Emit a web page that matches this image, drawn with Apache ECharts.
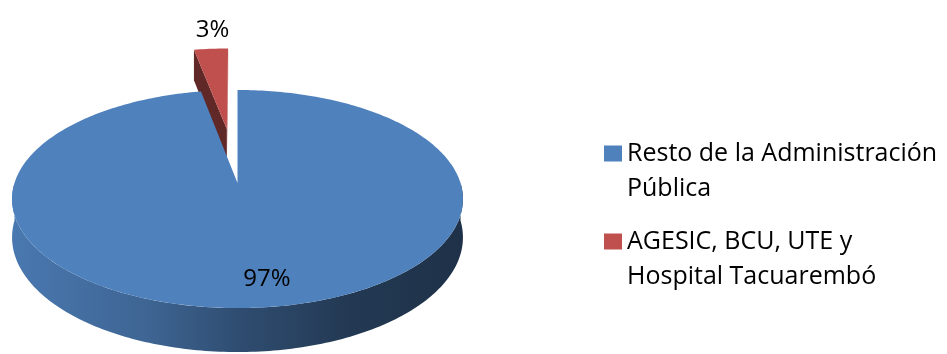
<!DOCTYPE html>
<html>
<head>
<meta charset="utf-8">
<script src="https://cdn.jsdelivr.net/npm/echarts@6/dist/echarts.min.js"></script>
<style>
  html, body { margin: 0; padding: 0; background: #ffffff; }
  #chart { width: 947px; height: 354px; }
</style>
</head>
<body>
<div id="chart"></div>
<script>
// Share of institutions (percent)
const categories = ['Resto de la Administración Pública', 'AGESIC, BCU, UTE y Hospital Tacuarembó'];
const legendLabels = ['Resto de la Administración\nPública', 'AGESIC, BCU, UTE y\nHospital Tacuarembó'];
const shares = [97, 3];

// slice styling
const sliceColors = ['#4f81bd', '#c0504d'];
const explode = [0, 0.55];              // fraction of radius
const labelRadius = [0.8, 1.0];         // where each percent label sits
const labelShift = [[10.5, 0], [1.5, -19]];

// tilted pie geometry: unit circle -> screen with a mild perspective
const G = { cx: 237.5, cy: 183, rx: 223, ry: 106.7, persp: 0.147, depth: 37.5 };

function project(u, v, z) {
  const s = 1 / (1 + G.persp * v);
  return [G.cx + G.rx * u * s, G.cy + (-G.ry * v + G.depth * z) * s];
}

const total = shares.reduce((a, b) => a + b, 0);
const startShare = [];
shares.reduce((acc, v) => { startShare.push(acc); return acc + v; }, 0);

// slices run clockwise from 12 o'clock; returns [a0, a1] (radians, ccw, a0 < a1)
function sliceAngles(i) {
  const startDeg = 90 - startShare[i] / total * 360;
  const endDeg = 90 - (startShare[i] + shares[i]) / total * 360;
  return [endDeg * Math.PI / 180, startDeg * Math.PI / 180];
}

function arcPoints(lo, hi, ou, ov, z) {
  const n = Math.max(2, Math.ceil((hi - lo) / (Math.PI / 180)));
  const pts = [];
  for (let k = 0; k <= n; k++) {
    const t = lo + (hi - lo) * k / n;
    pts.push(project(ou + Math.cos(t), ov + Math.sin(t), z));
  }
  return pts;
}

function shade(hex, f) {
  const n = parseInt(hex.slice(1), 16);
  const r = Math.round(((n >> 16) & 255) * f);
  const g = Math.round(((n >> 8) & 255) * f);
  const b = Math.round((n & 255) * f);
  return 'rgb(' + r + ',' + g + ',' + b + ')';
}

function wallFill(color) {
  return new echarts.graphic.LinearGradient(
    G.cx - G.rx * 1.012, 0, G.cx + G.rx * 1.012, 0,
    [
      { offset: 0, color: shade(color, 0.93) },
      { offset: 0.3, color: shade(color, 0.78) },
      { offset: 0.5, color: shade(color, 0.6) },
      { offset: 0.75, color: shade(color, 0.44) },
      { offset: 1, color: shade(color, 0.38) }
    ],
    true
  );
}

// viewer sits in front of the pie (u = 0, v far negative)
const viewerV = -1 / G.persp;
function faceVisible(nu, nv, cu, cv) {
  return nu * (0 - cu) + nv * (viewerV - cv) > 1e-6;
}

function makeRenderItem(i) {
  return function (params, api) {
    const value = api.value(0);
    const color = sliceColors[i];
    const [a0, a1] = sliceAngles(i);
    const mid = (a0 + a1) / 2;
    const e = explode[i];
    const ou = e * Math.cos(mid), ov = e * Math.sin(mid);
    const children = [];

    // radial cut faces
    const faces = [
      { ang: a0, n: [Math.sin(a0), -Math.cos(a0)], f: 0.9 },
      { ang: a1, n: [-Math.sin(a1), Math.cos(a1)], f: 0.5 }
    ];
    faces.forEach(fc => {
      if (!faceVisible(fc.n[0], fc.n[1], ou, ov)) return;
      const ru = ou + Math.cos(fc.ang), rv = ov + Math.sin(fc.ang);
      children.push({
        type: 'polygon',
        shape: { points: [project(ou, ov, 0), project(ru, rv, 0), project(ru, rv, 1), project(ou, ov, 1)] },
        style: { fill: shade(color, fc.f) }
      });
    });

    // outer wall on the near half
    for (let k = -1; k <= 1; k++) {
      const lo = Math.max(a0, -Math.PI + 2 * Math.PI * k);
      const hi = Math.min(a1, 2 * Math.PI * k);
      if (hi - lo > 1e-6) {
        const pts = arcPoints(lo, hi, ou, ov, 0).concat(arcPoints(lo, hi, ou, ov, 1).reverse());
        children.push({ type: 'polygon', shape: { points: pts }, style: { fill: wallFill(color) } });
      }
    }

    // top face
    const topPts = [project(ou, ov, 0)].concat(arcPoints(a0, a1, ou, ov, 0));
    children.push({ type: 'polygon', shape: { points: topPts }, style: { fill: color } });

    // percent label
    const r = labelRadius[i];
    const lp = project(ou + r * Math.cos(mid), ov + r * Math.sin(mid), 0);
    children.push({
      type: 'text',
      style: {
        text: Math.round(value / total * 100) + '%',
        x: lp[0] + labelShift[i][0],
        y: lp[1] + labelShift[i][1],
        fill: '#000000',
        font: '24px "Open Sans"',
        align: 'center',
        verticalAlign: 'middle'
      }
    });

    return { type: 'group', children: children };
  };
}

const chart = echarts.init(document.getElementById('chart'));
chart.setOption({
  animation: false,
  backgroundColor: '#ffffff',
  legend: {
    orient: 'vertical',
    left: 604,
    top: 136,
    padding: 0,
    itemWidth: 18,
    itemHeight: 51,
    itemGap: 18,
    // square swatch aligned with the first text line
    icon: 'path://M0,0H18V16H0Z M0,51H0.02V50.98Z',
    selectedMode: false,
    textStyle: { fontFamily: 'Open Sans', fontSize: 25, lineHeight: 35, color: '#000000' },
    formatter: name => legendLabels[categories.indexOf(name)],
    data: categories
  },
  series: categories.map((name, i) => ({
    type: 'custom',
    name: name,
    coordinateSystem: 'none',
    silent: true,
    z: explode[i] > 0 ? 1 : 2,
    itemStyle: { color: sliceColors[i] },
    renderItem: makeRenderItem(i),
    data: [[shares[i]]]
  }))
});
</script>
</body>
</html>
